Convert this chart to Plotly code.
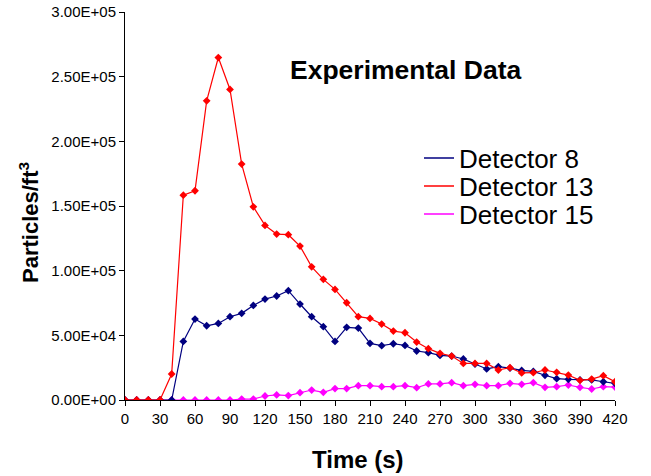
import plotly.graph_objects as go

time_s = [0, 10, 20, 30, 40, 50, 60, 70, 80, 90, 100, 110, 120, 130, 140, 150, 160, 170, 180, 190, 200,
          210, 220, 230, 240, 250, 260, 270, 280, 290, 300, 310, 320, 330, 340, 350, 360, 370, 380, 390,
          400, 410, 420]

detector_8 = [0, 0, 0, 0, 0, 45300, 62600, 57400, 59200, 64400, 67000, 73100, 78000, 80400, 84500,
              74200, 64400, 56700, 45300, 56200, 55600, 43800, 42000, 43500, 42200, 37900, 36600, 34500,
              34000, 31700, 27800, 24000, 25800, 24700, 22900, 22100, 19100, 16500, 16000, 15500, 15500,
              14100, 12900]

detector_13 = [0, 0, 0, 0, 20100, 158400, 161800, 231300, 264800, 240100, 182400, 149400, 135000,
               128300, 127800, 119000, 103000, 93300, 85500, 75200, 64400, 63100, 58700, 53300, 52000,
               44800, 39700, 36100, 34000, 28300, 28300, 28300, 23200, 25000, 20900, 21100, 23200, 21400,
               19300, 15200, 16200, 18800, 14100]

detector_15 = [0, 0, 0, 0, 0, 0, 0, 0, 0, 0, 700, 700, 3100, 3900, 3400, 5700, 7700, 5900, 8800, 8800,
               11100, 11100, 10300, 10300, 11100, 9500, 12400, 12400, 13400, 11100, 12100, 11100, 11100,
               12900, 12100, 13400, 9800, 10300, 11600, 9800, 8500, 10300, 10000]

series_names = ["Detector 8", "Detector 13", "Detector 15"]
series_colors = ["#000080", "#FF0000", "#FF00FF"]

y_tick_vals = [0, 50000, 100000, 150000, 200000, 250000, 300000]
y_tick_text = ["0.00E+00", "5.00E+04", "1.00E+05", "1.50E+05", "2.00E+05", "2.50E+05", "3.00E+05"]
x_tick_vals = [0, 30, 60, 90, 120, 150, 180, 210, 240, 270, 300, 330, 360, 390, 420]

FONT = "Liberation Sans, Arial, sans-serif"

fig = go.Figure()
# magenta first so red/blue draw on top, matching reference layering
for name, ys, col in [(series_names[2], detector_15, series_colors[2]),
                      (series_names[0], detector_8, series_colors[0]),
                      (series_names[1], detector_13, series_colors[1])]:
    fig.add_trace(go.Scatter(x=time_s, y=ys, mode="lines+markers", name=name, showlegend=False,
                             line=dict(color=col, width=1.2),
                             marker=dict(symbol="diamond", size=6, color=col)))

# legend entries (line only, as in the reference), each in its own legend box
legend_ids = ["legend", "legend2", "legend3"]
for name, col, lid in zip(series_names, series_colors, legend_ids):
    fig.add_trace(go.Scatter(x=[None], y=[None], mode="lines", name=name, legend=lid,
                             line=dict(color=col, width=1.5)))

legend_common = dict(xanchor="left", yanchor="middle", bgcolor="rgba(0,0,0,0)",
                     font=dict(size=26, family=FONT), itemwidth=30)
leg_x = 0.60
fig.update_layout(
    width=651, height=476,
    margin=dict(l=125, r=36, t=12, b=76, autoexpand=False),
    paper_bgcolor="white", plot_bgcolor="white",
    font=dict(family=FONT, color="black"),
    showlegend=True,
    legend=dict(x=leg_x, y=(400 - 158) / 388, **legend_common),
    legend2=dict(x=leg_x, y=(400 - 186) / 388, **legend_common),
    legend3=dict(x=leg_x, y=(400 - 214) / 388, **legend_common),
    annotations=[
        dict(text="<b>Experimental Data</b>", x=0.573, y=0.85, xref="paper", yref="paper",
             showarrow=False, font=dict(size=26.5, family=FONT), xanchor="center", yanchor="middle"),
        dict(text="<b>Time (s)</b>", x=(358 - 125) / 490, y=(400 - 460) / 388, xref="paper", yref="paper",
             showarrow=False, font=dict(size=24, family=FONT), xanchor="center", yanchor="middle"),
        dict(text="<b>Particles/ft<sup>3</sup></b>", x=(29 - 125) / 490, y=(400 - 223) / 388,
             xref="paper", yref="paper", textangle=-90,
             showarrow=False, font=dict(size=22, family=FONT), xanchor="center", yanchor="middle"),
    ],
)

fig.update_xaxes(range=[0, 420], tickvals=x_tick_vals, ticks="outside", ticklen=5, tickcolor="black",
                 showline=True, linecolor="black", linewidth=1, showgrid=False, zeroline=False,
                 automargin=False, ticklabeloverflow="allow", tickfont=dict(size=15, family=FONT))
fig.update_yaxes(range=[0, 300000], tickvals=y_tick_vals, ticktext=y_tick_text, ticks="outside", ticklen=5,
                 tickcolor="black", showline=True, linecolor="black", linewidth=1, showgrid=False,
                 zeroline=False, automargin=False, ticklabeloverflow="allow",
                 tickfont=dict(size=15, family=FONT))

fig.write_html("out.html", config={"displayModeBar": False},
               post_script="document.body.style.margin='0';document.body.style.overflow='hidden';")
